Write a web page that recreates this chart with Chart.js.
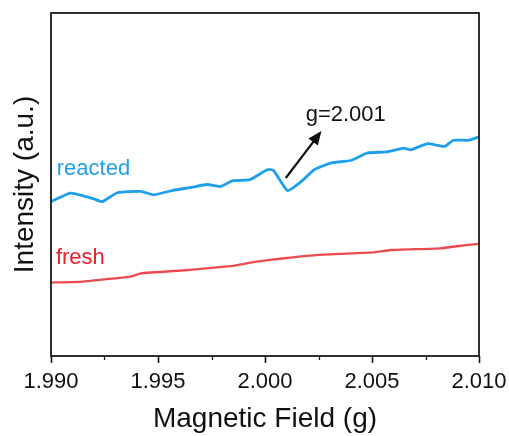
<!DOCTYPE html>
<html>
<head>
<meta charset="utf-8">
<script src="https://cdn.jsdelivr.net/npm/chart.js@4"></script>
<style>
  html, body { margin: 0; padding: 0; background: #fff; }
  #wrap { width: 509px; height: 436px; position: relative; }
</style>
</head>
<body>
<div id="wrap"><canvas id="epr"></canvas></div>
<script>
// EPR spectra (intensity in arbitrary units, 0-100 frame)
const fieldReacted = [1.9900, 1.9909, 1.9915, 1.9920, 1.9924, 1.9931, 1.9942, 1.9948, 1.9957, 1.9965,
  1.9973, 1.9979, 1.9985, 1.9993, 2.0001, 2.0004, 2.00105, 2.0017, 2.0023, 2.0031,
  2.0040, 2.0048, 2.0057, 2.0065, 2.0068, 2.0076, 2.0084, 2.0088, 2.0095, 2.0100];
const intensityReacted = [45.0, 47.5, 46.7, 45.8, 45.0, 47.6, 48.0, 47.0, 48.3, 49.1,
  50.0, 49.4, 51.1, 51.4, 54.3, 54.1, 48.2, 50.9, 54.3, 56.3,
  57.0, 59.2, 59.5, 60.6, 60.1, 61.9, 61.1, 62.9, 62.9, 63.9];

const fieldFresh = [1.9900, 1.9915, 1.9937, 1.9942, 1.9965, 1.9985, 1.9996, 2.0009, 2.0025, 2.0051,
  2.0059, 2.0082, 2.0095, 2.0100];
const intensityFresh = [21.4, 21.7, 23.15, 24.1, 25.1, 26.3, 27.5, 28.5, 29.5, 30.2,
  30.9, 31.4, 32.4, 32.7];

const majorTicks = [1.990, 1.995, 2.000, 2.005, 2.010];
const minorTicks = [1.9925, 1.9975, 2.0025, 2.0075];

const FONT = 'Arial, "Liberation Sans", Helvetica, sans-serif';
const BLUE = '#1d9fea';
const RED = '#ec4a4e';

function toPoints(xs, ys) {
  return xs.map((x, i) => ({ x, y: ys[i] }));
}

// frame, minor ticks, series labels and the g=2.001 arrow
const decorations = {
  id: 'decorations',
  afterDraw(chart) {
    const { ctx, chartArea: a, scales: { x, y } } = chart;
    ctx.save();
    ctx.strokeStyle = '#1a1a1a';
    ctx.lineWidth = 1.8;
    ctx.strokeRect(a.left, a.top, a.right - a.left, a.bottom - a.top);

    ctx.lineWidth = 1.3;
    minorTicks.forEach((t) => {
      const px = Math.round(x.getPixelForValue(t)) + 0.5;
      ctx.beginPath();
      ctx.moveTo(px, a.bottom);
      ctx.lineTo(px, a.bottom + 4);
      ctx.stroke();
    });

    ctx.font = `22px ${FONT}`;
    ctx.textBaseline = 'alphabetic';
    ctx.textAlign = 'left';
    ctx.fillStyle = BLUE;
    ctx.fillText('reacted', x.getPixelForValue(1.99027), y.getPixelForValue(52.8));
    ctx.fillStyle = '#e8202a';
    ctx.fillText('fresh', x.getPixelForValue(1.99023), y.getPixelForValue(26.8));
    ctx.fillStyle = '#111';
    ctx.fillText('g=2.001', x.getPixelForValue(2.0019), y.getPixelForValue(68.6));

    const x0 = x.getPixelForValue(2.00097), y0 = y.getPixelForValue(51.9);
    const x1 = x.getPixelForValue(2.00264), y1 = y.getPixelForValue(65.6);
    const ang = Math.atan2(y1 - y0, x1 - x0);
    const head = 15;
    ctx.strokeStyle = '#111';
    ctx.lineWidth = 2.2;
    ctx.beginPath();
    ctx.moveTo(x0, y0);
    ctx.lineTo(x1 - Math.cos(ang) * head * 0.8, y1 - Math.sin(ang) * head * 0.8);
    ctx.stroke();
    ctx.beginPath();
    ctx.moveTo(x1, y1);
    ctx.lineTo(x1 - head * Math.cos(ang - 0.4), y1 - head * Math.sin(ang - 0.4));
    ctx.lineTo(x1 - head * Math.cos(ang + 0.4), y1 - head * Math.sin(ang + 0.4));
    ctx.closePath();
    ctx.fill();
    ctx.restore();
  }
};

new Chart(document.getElementById('epr'), {
  type: 'line',
  data: {
    datasets: [
      {
        label: 'reacted',
        data: toPoints(fieldReacted, intensityReacted),
        borderColor: BLUE,
        borderWidth: 2.8,
        pointRadius: 0,
        tension: 0.15
      },
      {
        label: 'fresh',
        data: toPoints(fieldFresh, intensityFresh),
        borderColor: RED,
        borderWidth: 2.3,
        pointRadius: 0,
        tension: 0.1
      }
    ]
  },
  options: {
    responsive: true,
    maintainAspectRatio: false,
    animation: false,
    layout: { padding: { top: 13, right: 30, bottom: 0, left: 0 } },
    plugins: { legend: { display: false }, tooltip: { enabled: false } },
    scales: {
      x: {
        type: 'linear',
        min: 1.99,
        max: 2.01,
        afterFit(scale) {
          scale.height = 80;
          scale.paddingLeft = 0;
          scale.paddingRight = 0;
        },
        afterBuildTicks(scale) { scale.ticks = majorTicks.map((v) => ({ value: v })); },
        border: { display: false },
        grid: { drawOnChartArea: false, drawTicks: true, tickLength: 7, tickColor: '#1a1a1a', tickWidth: 1.6 },
        ticks: {
          color: '#111',
          padding: 6,
          maxRotation: 0,
          font: { family: FONT, size: 22 },
          callback: (v) => Number(v).toFixed(3)
        },
        title: {
          display: true,
          text: 'Magnetic Field (g)',
          color: '#111',
          font: { family: FONT, size: 28 },
          padding: { top: 2, bottom: 0 }
        }
      },
      y: {
        min: 0,
        max: 100,
        afterFit(scale) { scale.width = 51; },
        border: { display: false },
        grid: { display: false },
        ticks: { display: false },
        title: {
          display: true,
          text: 'Intensity (a.u.)',
          color: '#111',
          font: { family: FONT, size: 28 },
          padding: { top: 8, bottom: 0 }
        }
      }
    }
  },
  plugins: [decorations]
});
</script>
</body>
</html>
